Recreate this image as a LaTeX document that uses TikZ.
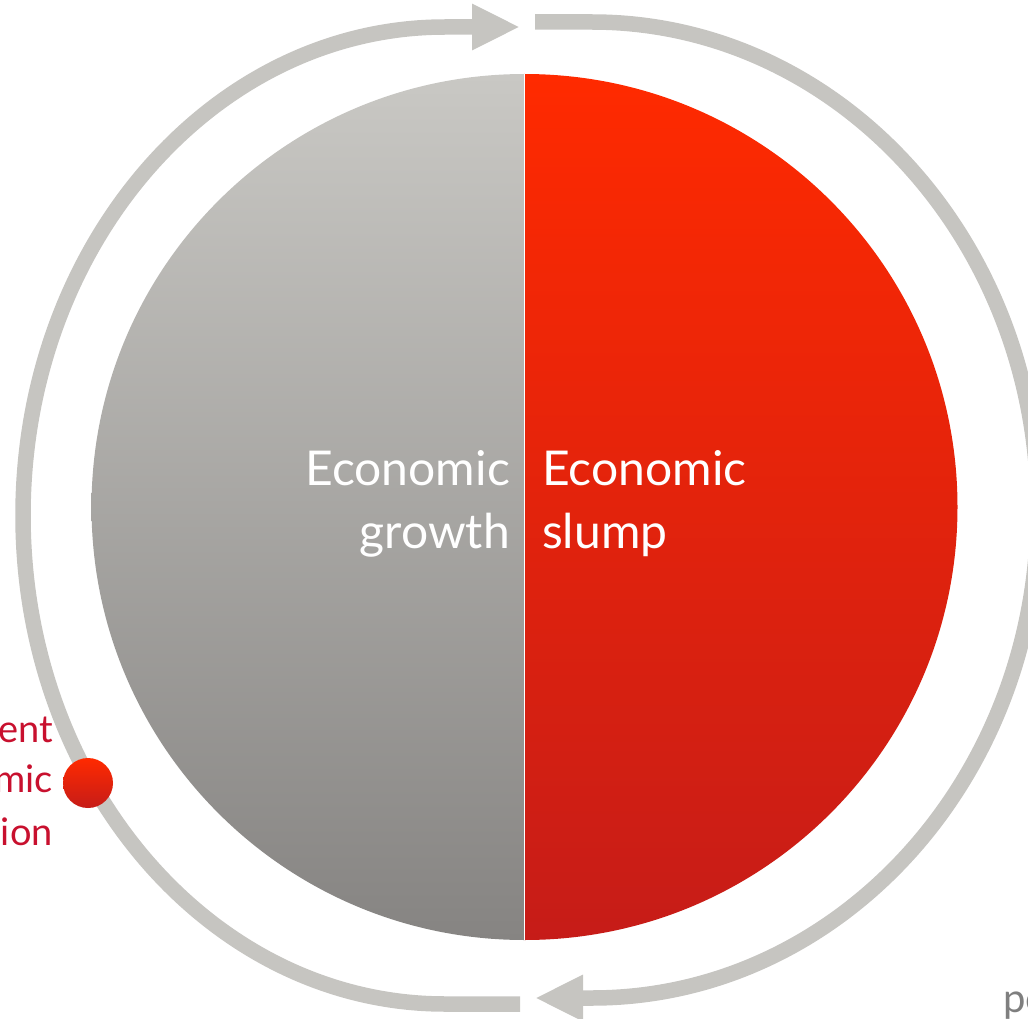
\documentclass[tikz,border=0pt]{standalone}
\usepackage{fontspec}
\setmainfont{Lato}
\usetikzlibrary{arrows.meta}
\definecolor{ringgray}{RGB}{198,197,193}
\definecolor{gtop}{RGB}{201,200,196}
\definecolor{gbot}{RGB}{134,132,130}
\definecolor{rtop}{RGB}{255,42,0}
\definecolor{rmid}{RGB}{232,40,10}
\definecolor{rbot}{RGB}{198,28,24}
\definecolor{labelred}{RGB}{200,16,46}
\definecolor{labelgray}{RGB}{127,127,127}
\tikzset{
  ring/.style={draw=ringgray, line width=15.5pt},
  ringarrow/.style={ring, -{Triangle[length=48pt,width=43pt]}},
  bigtext/.style={text=white, font=\fontsize{48}{58}\selectfont, inner sep=0pt},
  sidetext/.style={text=labelred, font=\fontsize{38}{46}\selectfont, inner sep=0pt, anchor=base east},
}
\begin{document}
\begin{tikzpicture}[x=1pt,y=-1pt]
\useasboundingbox (0,0) rectangle (1028,1019);
\clip (0,0) rectangle (1028,1019);
% coordinates
\coordinate (C) at (524.5,507);
\coordinate (Lstart) at (520,1004);
\coordinate (Lbot) at (445,1004);
\coordinate (Ltip) at (520,27);
\coordinate (Rstart) at (535,22);
\coordinate (Rtop) at (592,22);
\coordinate (Rtip) at (535,998);
% big circle halves
\path[top color=gtop, bottom color=gbot]
  (524.5,74) arc[start angle=270, end angle=90, radius=433] -- cycle;
\path[top color=rtop, middle color=rmid, bottom color=rbot]
  (524.5,74) arc[start angle=-90, end angle=90, radius=433] -- cycle;
\draw[white, line width=1.6pt] (524.5,74) -- (524.5,940);
% ring arcs
\draw[ringarrow] (Lstart) -- (Lbot) arc[start angle=90, end angle=270, x radius=422, y radius=488.5] -- (Ltip);
\draw[ringarrow] (Rstart) -- (Rtop) arc[start angle=-90, end angle=90, x radius=446, y radius=488] -- (Rtip);
% dot
\node[circle, minimum size=50pt, inner sep=0pt, top color=rtop, bottom color=rbot] (dot) at (88,783) {};
% texts
\node[bigtext, anchor=base east] (g1) at (510,485) {Economic};
\node[bigtext, anchor=base east] (g2) at (510,548) {growth};
\node[bigtext, anchor=base west] (s1) at (542,485) {Economic};
\node[bigtext, anchor=base west] (s2) at (542,548) {slump};
\node[sidetext] (t1) at (53,742) {ent};
\node[sidetext] (t2) at (53,792) {mic};
\node[sidetext] (t3) at (53,845) {ion};
\node[text=labelgray, font=\fontsize{40}{48}\selectfont, inner sep=0pt, anchor=base west] (po) at (1003,1012) {po};
\end{tikzpicture}
\end{document}
